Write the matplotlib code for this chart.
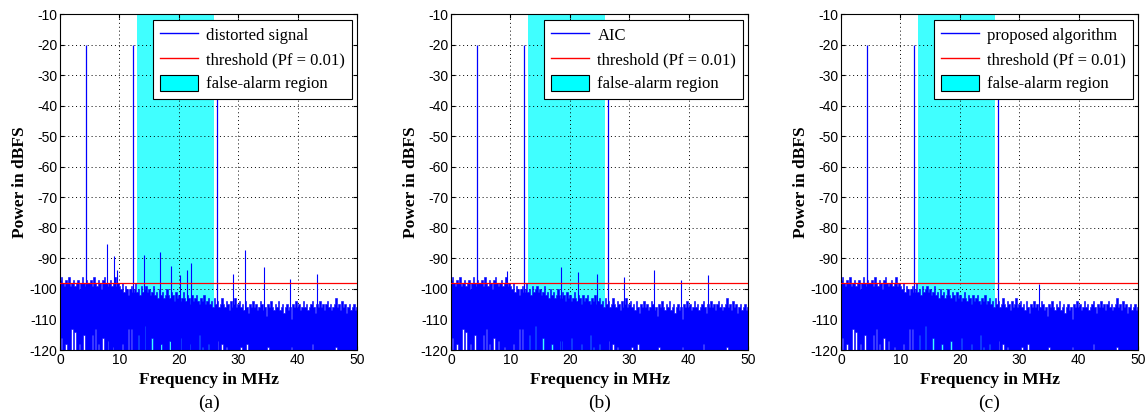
import matplotlib
matplotlib.use("Agg")
import matplotlib.pyplot as plt
from matplotlib.lines import Line2D
from matplotlib.patches import Patch
import numpy as np

# Shared noise floor: top of each 0.25 MHz bin, 0..50 MHz (dBFS)
bin_step = 0.25
noise_top = [
    -97, -96, -98, -99, -97, -98, -96, -99, -98, -97, -99, -98, -97, -100, -98, -96, -98, -99, -97, -98,
    -98, -97, -99, -96, -98, -99, -97, -98, -100, -97, -96, -98, -99, -98, -97, -99, -98, -96, -99, -98,
    -99, -100, -98, -101, -99, -100, -102, -100, -99, -101, -100, -98, -101, -100, -102, -99, -101, -100, -99, -101,
    -100, -102, -101, -99, -102, -101, -103, -100, -102, -101, -103, -102, -100, -102, -103, -101, -102, -104, -101, -103,
    -102, -104, -103, -101, -103, -104, -102, -103, -105, -102, -104, -103, -102, -104, -105, -103, -104, -102, -105, -104,
    -103, -105, -104, -106, -103, -105, -104, -106, -105, -103, -105, -106, -104, -105, -107, -104, -106, -105, -103, -106,
    -105, -104, -106, -105, -107, -104, -106, -108, -105, -106, -104, -106, -105, -107, -106, -104, -105, -107, -106, -109,
    -105, -106, -104, -106, -107, -105, -106, -104, -107, -106, -105, -108, -106, -105, -107, -106, -110, -105, -106, -104,
    -106, -105, -107, -106, -104, -106, -105, -107, -106, -105, -104, -106, -108, -105, -106, -104, -106, -105, -107, -105,
    -104, -106, -105, -107, -106, -105, -103, -106, -105, -107, -104, -106, -105, -108, -106, -105, -107, -106, -105, -107,
    -106,
]

# Bins whose lowest sample stays above the -120 dB bottom
gap_freq = [0.25, 1.0, 2.0, 2.5, 3.25, 4.0, 5.5, 6.0, 6.5, 7.25, 8.0, 9.0, 10.5, 11.5, 12.0,
            13.25, 14.25, 15.5, 17.0, 18.5, 20.25, 22.0, 23.5, 24.0, 25.0, 26.5, 27.25, 28.0,
            30.5, 31.5, 35.0, 39.0, 42.5, 46.5]
gap_top = [-116, -118, -113, -114, -118, -115, -115, -113, -118, -116, -117, -119, -118, -113, -113,
           -115, -112, -116, -118, -117, -116, -118, -115, -119, -118, -117, -118, -119,
           -119, -118, -119, -119, -118, -119]

# Test tones (same in every panel)
tone_freq = [4.45, 12.3, 26.4]
tone_level = [-20, -20, -20]

# Spurs above the noise floor, per panel
spur_freq_a = [7.85, 9.15, 9.65, 14.1, 16.9, 18.7, 20.2, 21.4, 22.0, 29.2, 31.1, 34.3, 38.8, 43.3]
spur_level_a = [-85.3, -89.2, -93.8, -88.9, -87.9, -92.4, -95.5, -93.8, -91.6, -95.1, -87.3, -92.9, -96.6, -95.1]
spur_freq_b = [9.4, 18.5, 21.3, 24.6, 29.1, 34.2, 38.7, 43.2]
spur_level_b = [-94.3, -92.9, -94.6, -95.1, -96.2, -93.7, -97.2, -95.6]
spur_freq_c = [33.3]
spur_level_c = [-98.3]

threshold = -98
alarm_band = (13.0, 26.0)

series_names = ["distorted signal", "AIC", "proposed algorithm"]
panel_tags = ["(a)", "(b)", "(c)"]
spur_freqs = [spur_freq_a, spur_freq_b, spur_freq_c]
spur_levels = [spur_level_a, spur_level_b, spur_level_c]

plt.rcParams["axes.unicode_minus"] = False
serif = "Liberation Serif"
sans = "Liberation Sans"
BLUE = "#0000ff"
CYAN = "#40ffff"

freqs = np.arange(len(noise_top)) * bin_step
noise_bottom = np.full(len(noise_top), -120.0)
for f, t in zip(gap_freq, gap_top):
    noise_bottom[int(round(f / bin_step))] = t

fig = plt.figure(figsize=(11.45, 4.16), dpi=100)
lefts = [60, 451, 841]

for k in range(3):
    ax = fig.add_axes([lefts[k] / 1145, 66 / 416, 297 / 1145, 336 / 416])
    ax.axvspan(*alarm_band, color=CYAN, lw=0, zorder=0.2)
    ax.fill_between(freqs, noise_bottom, noise_top, step="mid", color=BLUE, lw=0.4, zorder=2)
    ax.vlines(spur_freqs[k], -120, spur_levels[k], color=BLUE, lw=0.8, zorder=2)
    ax.vlines(tone_freq, -120, tone_level, color=BLUE, lw=0.9, zorder=2)
    ax.axhline(threshold, color="#ff0000", lw=0.9, zorder=3)

    ax.set_xlim(0, 50)
    ax.set_ylim(-120, -10)
    ax.set_xticks(range(0, 51, 10))
    ax.set_yticks(range(-120, -9, 10))
    ax.set_axisbelow(True)
    ax.grid(True, color="black", ls=(0, (1, 3)), lw=0.7)
    ax.tick_params(direction="in", length=3, top=True, right=True, labelsize=10, pad=2)
    for lab in ax.get_xticklabels() + ax.get_yticklabels():
        lab.set_family(sans)
    for s in ax.spines.values():
        s.set_linewidth(0.8)

    ax.set_xlabel("Frequency in MHz", family=serif, fontsize=12.5, fontweight="bold", labelpad=4)
    ax.set_ylabel("Power in dBFS", family=serif, fontsize=12.5, fontweight="bold", labelpad=1)

    handles = [Line2D([], [], color=BLUE, lw=1),
               Line2D([], [], color="#ff0000", lw=1),
               Patch(facecolor="#00ffff", edgecolor="black", lw=0.8)]
    labels = [series_names[k], "threshold (Pf = 0.01)", "false-alarm region"]
    leg = ax.legend(handles, labels, loc="upper right", bbox_to_anchor=(0.983, 0.982),
                    prop={"family": serif, "size": 12}, fancybox=False, framealpha=1,
                    edgecolor="black", borderaxespad=0, handlelength=2.33, handleheight=1.08,
                    labelspacing=0.39, borderpad=0.4, handletextpad=0.48)
    leg.get_frame().set_linewidth(0.8)
    leg.set_zorder(5)

    ax.text(0.5, -0.158, panel_tags[k], transform=ax.transAxes, ha="center", va="center",
            family=serif, fontsize=14)

fig.savefig("out.png", dpi=100)
